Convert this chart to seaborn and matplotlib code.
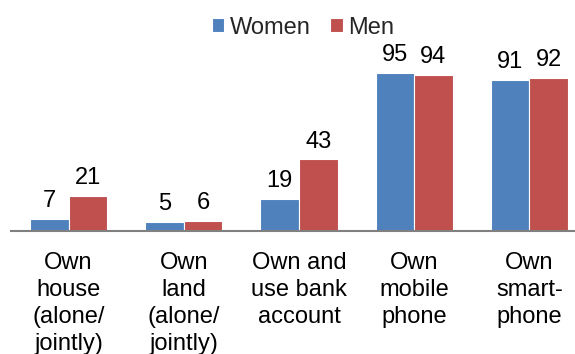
import matplotlib
matplotlib.use("Agg")
import matplotlib.pyplot as plt
import seaborn as sns
import pandas as pd

categories = [
    "Own\nhouse\n(alone/\njointly)",
    "Own\nland\n(alone/\njointly)",
    "Own and\nuse bank\naccount",
    "Own\nmobile\nphone",
    "Own\nsmart-\nphone",
]
women = [7, 5, 19, 95, 91]
men = [21, 6, 43, 94, 92]
groups = ["Women", "Men"]
colors = {"Women": "#4F81BD", "Men": "#C0504D"}

df = pd.DataFrame({
    "category": categories * 2,
    "group": ["Women"] * len(categories) + ["Men"] * len(categories),
    "value": women + men,
})

sns.set_theme(style="white")
plt.rcParams["font.family"] = ["Liberation Sans", "DejaVu Sans"]
FS = 17

fig = plt.figure(figsize=(5.75, 3.54), dpi=100)
ax = fig.add_axes([11 / 575, 123.3 / 354, 576 / 575, 165.7 / 354])

sns.barplot(data=df, x="category", y="value", hue="group", hue_order=groups,
            order=categories, palette=colors, width=0.67, gap=0.0,
            saturation=1, edgecolor="white", linewidth=0.8, ax=ax,
            legend=True)

ax.set_xlim(-0.5, 4.5)
ax.set_ylim(0, 100)
ax.set_xlabel("")
ax.set_ylabel("")
ax.set_yticks([])
for s in ["left", "right", "top"]:
    ax.spines[s].set_visible(False)
ax.spines["bottom"].set_color("#808080")
ax.spines["bottom"].set_linewidth(1.5)
ax.tick_params(axis="x", length=0, pad=15, labelsize=FS, colors="black")
for lbl in ax.get_xticklabels():
    lbl.set_linespacing(1.3)
    lbl.set_verticalalignment("top")

for cont in ax.containers:
    ax.bar_label(cont, fmt="%d", padding=5, fontsize=FS, color="black")

handles, labels = ax.get_legend_handles_labels()
ax.legend_.remove()
fig.legend(handles, labels, loc="center", bbox_to_anchor=(0.527, 0.922),
           ncol=2, frameon=False, fontsize=FS, handlelength=0.51,
           handleheight=0.51, handletextpad=0.25, columnspacing=0.85,
           borderaxespad=0, borderpad=0)

fig.savefig("out.png", dpi=100)
